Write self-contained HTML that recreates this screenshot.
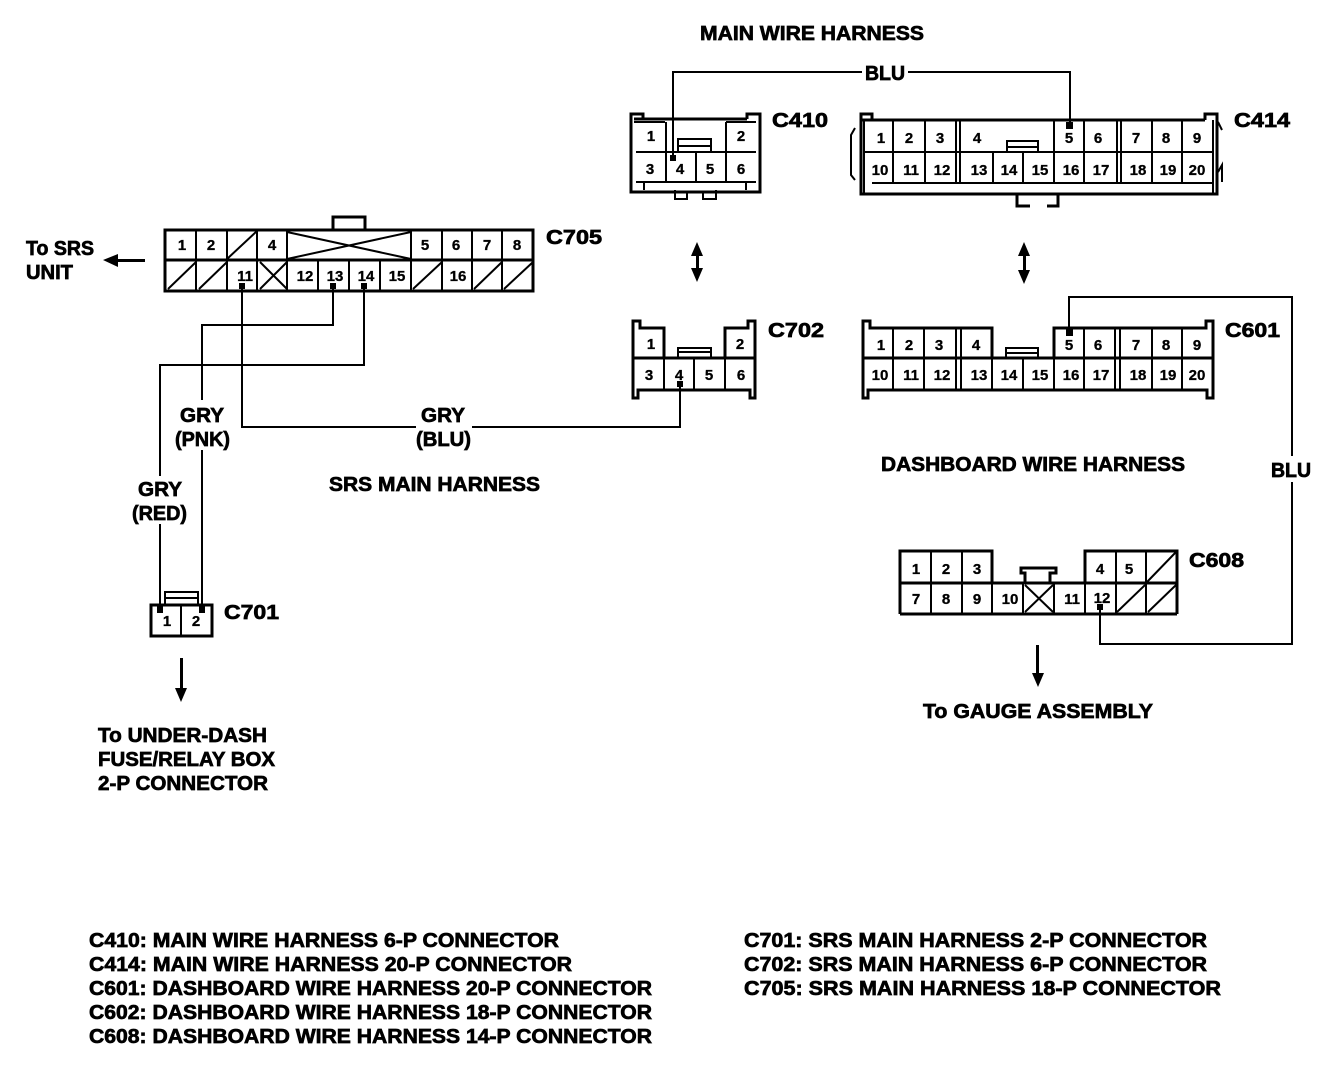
<!DOCTYPE html>
<html><head><meta charset="utf-8"><style>
html,body{margin:0;padding:0;background:#fff}
svg{display:block}
text{font-family:"Liberation Sans",sans-serif;font-weight:bold;fill:#000}
.t{font-size:20px;stroke:#000;stroke-width:.7}
.n{font-size:15px;text-anchor:middle;stroke:#000;stroke-width:.3}
.w{fill:none;stroke:#000;stroke-width:2}
.b{fill:none;stroke:#000;stroke-width:3}
.c{fill:none;stroke:#000;stroke-width:2}
</style></head><body>
<svg width="1344" height="1070" viewBox="0 0 1344 1070" xmlns="http://www.w3.org/2000/svg">
<rect width="1344" height="1070" fill="#fff"/>

<!-- wires -->
<path class="w" d="M673 158V72H862M908 72H1070V126"/>
<path class="w" d="M242 285V427H416M472 427H680V384"/>
<path class="w" d="M333 285V325H202V400M202 450V608"/>
<path class="w" d="M364 285V365H160V476M160 524V610"/>
<path class="w" d="M1069 332V297H1292V456M1292 482V644H1100V607"/>

<!-- wire dots -->
<g fill="#000">
<rect x="670" y="155" width="6" height="6"/>
<rect x="1066" y="122" width="7" height="7"/>
<rect x="1066" y="329" width="7" height="7"/>
<rect x="677" y="381" width="6" height="6"/>
<rect x="239" y="283" width="6" height="6"/>
<rect x="330" y="283" width="6" height="6"/>
<rect x="361" y="283" width="6" height="6"/>
<rect x="1097" y="604" width="6" height="6"/>
<rect x="157" y="606" width="6" height="7"/>
<rect x="199" y="606" width="6" height="7"/>
</g>

<!-- C410 -->
<path class="b" d="M634 119H643V114H631V192H760V114H747V119"/>
<path class="b" d="M643 119H747"/>
<path class="c" d="M636 152H756M636 182H756M666 122V152M726 122V152M666 152V182M696 152V182M726 152V182M634 122H665M726 122H756M644 182V190M746 182V190"/>
<path class="c" d="M678 152V139H711V152M678 146H711"/>
<path class="c" d="M675 190V199H687V192M703 192V199H716V190"/>
<g>
<text class="n" x="651" y="141">1</text><text class="n" x="741" y="141">2</text>
<text class="n" x="650" y="174">3</text><text class="n" x="680" y="174">4</text><text class="n" x="710" y="174">5</text><text class="n" x="741" y="174">6</text>
</g>

<!-- C414 -->
<path class="b" d="M862 120H872V114H861V194H1217V114H1205V120"/>
<path class="b" d="M872 120H1205"/>
<path class="c" d="M864 152H1213M872 183H1213M864 120V194M1213 120V194"/>
<path class="c" d="M893 120V183M925 120V183M956 120V183M960 120V183M1117 120V183M1121 120V183M1152 120V183M1182 120V183"/>
<path class="c" d="M993 152V183M1023 152V183M1054 120V183M1084 120V183"/>
<path class="c" d="M1007 152V141H1038V152M1007 147H1038"/>
<path class="c" d="M855 128L851 135V175L855 180M1218 122L1222 130M1218 172L1222 165V182"/>
<path class="b" d="M1017 195V206H1030M1047 206H1058V195"/>
<g>
<text class="n" x="881" y="143">1</text><text class="n" x="909" y="143">2</text><text class="n" x="940" y="143">3</text><text class="n" x="977" y="143">4</text><text class="n" x="1069" y="143">5</text><text class="n" x="1098" y="143">6</text><text class="n" x="1136" y="143">7</text><text class="n" x="1166" y="143">8</text><text class="n" x="1197" y="143">9</text>
<text class="n" x="880" y="175">10</text><text class="n" x="911" y="175">11</text><text class="n" x="942" y="175">12</text><text class="n" x="979" y="175">13</text><text class="n" x="1009" y="175">14</text><text class="n" x="1040" y="175">15</text><text class="n" x="1071" y="175">16</text><text class="n" x="1101" y="175">17</text><text class="n" x="1138" y="175">18</text><text class="n" x="1168" y="175">19</text><text class="n" x="1197" y="175">20</text>
</g>

<!-- C705 -->
<rect class="b" x="165" y="230" width="368" height="61"/>
<path class="b" d="M165 260H533M333 229V217H365V229"/>
<path class="c" d="M196 230V291M227 230V291M257 230V291M287 230V291M411 230V291M442 230V291M472 230V291M502 230V291M318 260V291M349 260V291M380 260V291"/>
<path class="c" d="M168 289L196 262M199 289L227 262M227 259L257 231M260 262L287 289M260 289L287 262M287 232L411 259M287 259L411 232M413 289L442 262M474 289L502 262M504 289L533 262"/>
<g>
<text class="n" x="182" y="250">1</text><text class="n" x="211" y="250">2</text><text class="n" x="272" y="250">4</text><text class="n" x="425" y="250">5</text><text class="n" x="456" y="250">6</text><text class="n" x="487" y="250">7</text><text class="n" x="517" y="250">8</text>
<text class="n" x="245" y="281">11</text><text class="n" x="305" y="281">12</text><text class="n" x="335" y="281">13</text><text class="n" x="366" y="281">14</text><text class="n" x="397" y="281">15</text><text class="n" x="458" y="281">16</text>
</g>

<!-- C702 -->
<path class="b" d="M664 358V328H640V321H633V398H638V390H750V398H755V321H748V328H725V358"/>
<path class="b" d="M634 358H755"/>
<path class="c" d="M664 358V390M694 358V390M725 358V390M678 358V348H711V358M678 352H711"/>
<g>
<text class="n" x="651" y="349">1</text><text class="n" x="740" y="349">2</text>
<text class="n" x="649" y="380">3</text><text class="n" x="679" y="380">4</text><text class="n" x="709" y="380">5</text><text class="n" x="741" y="380">6</text>
</g>

<!-- C601 -->
<path class="b" d="M992 358V328H870V321H863V398H868V390H1207V398H1213V321H1206V328H1054V358"/>
<path class="b" d="M864 358H1213"/>
<path class="c" d="M893 328V390M924 328V390M956 328V390M961 328V390M1115 328V390M1120 328V390M1152 328V390M1182 328V390M1084 328V390M992 358V390M1023 358V390M1054 358V390"/>
<path class="c" d="M1006 358V348H1038V358M1006 353H1038"/>
<g>
<text class="n" x="881" y="350">1</text><text class="n" x="909" y="350">2</text><text class="n" x="939" y="350">3</text><text class="n" x="976" y="350">4</text><text class="n" x="1069" y="350">5</text><text class="n" x="1098" y="350">6</text><text class="n" x="1136" y="350">7</text><text class="n" x="1166" y="350">8</text><text class="n" x="1197" y="350">9</text>
<text class="n" x="880" y="380">10</text><text class="n" x="911" y="380">11</text><text class="n" x="942" y="380">12</text><text class="n" x="979" y="380">13</text><text class="n" x="1009" y="380">14</text><text class="n" x="1040" y="380">15</text><text class="n" x="1071" y="380">16</text><text class="n" x="1101" y="380">17</text><text class="n" x="1138" y="380">18</text><text class="n" x="1168" y="380">19</text><text class="n" x="1197" y="380">20</text>
</g>

<!-- C608 -->
<path class="b" d="M900 583V551H992V583M1085 583V551H1177V583M900 583H1177M900 614H1177M900 583V614M1177 583V614"/>
<path class="c" d="M931 551V614M962 551V614M1116 551V614M1146 551V614M992 583V614M1023 583V614M1054 583V614M1085 583V614"/>
<path class="b" d="M1025 583V573H1021V568H1056V573H1050V583"/>
<path class="c" d="M1147 582L1176 552M1117 612L1145 585M1148 612L1176 585M1025 585L1053 612M1025 612L1053 585"/>
<g>
<text class="n" x="916" y="574">1</text><text class="n" x="946" y="574">2</text><text class="n" x="977" y="574">3</text><text class="n" x="1100" y="574">4</text><text class="n" x="1129" y="574">5</text>
<text class="n" x="916" y="604">7</text><text class="n" x="946" y="604">8</text><text class="n" x="977" y="604">9</text><text class="n" x="1010" y="604">10</text><text class="n" x="1072" y="604">11</text><text class="n" x="1102" y="603">12</text>
</g>

<!-- C701 -->
<rect class="b" x="151" y="605" width="61" height="31"/>
<path class="c" d="M181 605V636M165 605V592H198V605M166 598H198"/>
<text class="n" x="167" y="626">1</text><text class="n" x="196" y="626">2</text>

<!-- arrows -->
<g fill="#000" stroke="none">
<rect x="116" y="259" width="29" height="3"/><path d="M103 260L118 254V267Z"/>
<rect x="180" y="658" width="3" height="32"/><path d="M181 702L175 688H187Z"/>
<rect x="1036" y="645" width="3" height="32"/><path d="M1038 687L1032 673H1044Z"/>
<rect x="696" y="250" width="3" height="26"/><path d="M697 242L691 256H703ZM697 282L691 268H703Z"/>
<rect x="1023" y="250" width="3" height="26"/><path d="M1024 242L1018 256H1030ZM1024 284L1018 270H1030Z"/>
</g>

<!-- connector names -->
<text class="t" x="772" y="127" textLength="56" lengthAdjust="spacingAndGlyphs">C410</text>
<text class="t" x="1234" y="127" textLength="56" lengthAdjust="spacingAndGlyphs">C414</text>
<text class="t" x="546" y="244" textLength="56" lengthAdjust="spacingAndGlyphs">C705</text>
<text class="t" x="768" y="337" textLength="56" lengthAdjust="spacingAndGlyphs">C702</text>
<text class="t" x="1225" y="337" textLength="55" lengthAdjust="spacingAndGlyphs">C601</text>
<text class="t" x="1189" y="567" textLength="55" lengthAdjust="spacingAndGlyphs">C608</text>
<text class="t" x="224" y="619" textLength="55" lengthAdjust="spacingAndGlyphs">C701</text>

<!-- labels -->
<text class="t" x="700" y="40" textLength="224" lengthAdjust="spacingAndGlyphs">MAIN WIRE HARNESS</text>
<text class="t" x="865" y="80" textLength="40" lengthAdjust="spacingAndGlyphs">BLU</text>
<text class="t" x="1271" y="477" textLength="40" lengthAdjust="spacingAndGlyphs">BLU</text>
<text class="t" x="26" y="255" textLength="68" lengthAdjust="spacingAndGlyphs">To SRS</text>
<text class="t" x="26" y="279" textLength="47" lengthAdjust="spacingAndGlyphs">UNIT</text>
<text class="t" x="180" y="422" textLength="44" lengthAdjust="spacingAndGlyphs">GRY</text>
<text class="t" x="175" y="446" textLength="55" lengthAdjust="spacingAndGlyphs">(PNK)</text>
<text class="t" x="421" y="422" textLength="44" lengthAdjust="spacingAndGlyphs">GRY</text>
<text class="t" x="416" y="446" textLength="55" lengthAdjust="spacingAndGlyphs">(BLU)</text>
<text class="t" x="138" y="496" textLength="44" lengthAdjust="spacingAndGlyphs">GRY</text>
<text class="t" x="132" y="520" textLength="55" lengthAdjust="spacingAndGlyphs">(RED)</text>
<text class="t" x="329" y="491" textLength="211" lengthAdjust="spacingAndGlyphs">SRS MAIN HARNESS</text>
<text class="t" x="881" y="471" textLength="304" lengthAdjust="spacingAndGlyphs">DASHBOARD WIRE HARNESS</text>
<text class="t" x="923" y="718" textLength="230" lengthAdjust="spacingAndGlyphs">To GAUGE ASSEMBLY</text>
<text class="t" x="98" y="742" textLength="169" lengthAdjust="spacingAndGlyphs">To UNDER-DASH</text>
<text class="t" x="98" y="766" textLength="177" lengthAdjust="spacingAndGlyphs">FUSE/RELAY BOX</text>
<text class="t" x="98" y="790" textLength="170" lengthAdjust="spacingAndGlyphs">2-P CONNECTOR</text>

<!-- legend -->
<text class="t" x="89" y="947" textLength="470" lengthAdjust="spacingAndGlyphs">C410: MAIN WIRE HARNESS 6-P CONNECTOR</text>
<text class="t" x="89" y="971" textLength="483" lengthAdjust="spacingAndGlyphs">C414: MAIN WIRE HARNESS 20-P CONNECTOR</text>
<text class="t" x="89" y="995" textLength="563" lengthAdjust="spacingAndGlyphs">C601: DASHBOARD WIRE HARNESS 20-P CONNECTOR</text>
<text class="t" x="89" y="1019" textLength="563" lengthAdjust="spacingAndGlyphs">C602: DASHBOARD WIRE HARNESS 18-P CONNECTOR</text>
<text class="t" x="89" y="1043" textLength="563" lengthAdjust="spacingAndGlyphs">C608: DASHBOARD WIRE HARNESS 14-P CONNECTOR</text>
<text class="t" x="744" y="947" textLength="463" lengthAdjust="spacingAndGlyphs">C701: SRS MAIN HARNESS 2-P CONNECTOR</text>
<text class="t" x="744" y="971" textLength="463" lengthAdjust="spacingAndGlyphs">C702: SRS MAIN HARNESS 6-P CONNECTOR</text>
<text class="t" x="744" y="995" textLength="477" lengthAdjust="spacingAndGlyphs">C705: SRS MAIN HARNESS 18-P CONNECTOR</text>
</svg>
</body></html>
